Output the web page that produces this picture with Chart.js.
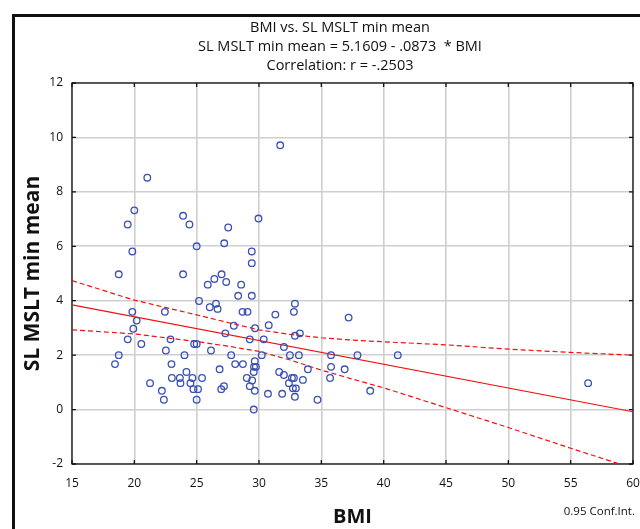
<!DOCTYPE html>
<html>
<head>
<meta charset="utf-8">
<script src="https://cdn.jsdelivr.net/npm/chart.js@4"></script>
<style>
  html, body { margin: 0; padding: 0; background: #fff; }
  #wrap { position: relative; width: 640px; height: 529px; overflow: hidden; }
  #frame { position: absolute; left: 12px; top: 14px; width: 700px; height: 600px;
           border-left: 3px solid #111; border-top: 3px solid #111; }
  #titre { position: absolute; left: 140px; width: 400px; top: 17px; text-align: center;
           font: 14.5px/19px "Open Sans", sans-serif; color: #111; white-space: pre; }
  #conf { position: absolute; right: 5px; top: 503px; font: 11.5px "Open Sans", sans-serif; color: #111; }
</style>
</head>
<body>
<div id="wrap">
  <div id="frame"></div>
  <canvas id="graph-bmi" width="640" height="529"></canvas>
  <div id="titre"></div>
  <div id="conf">0.95 Conf.Int.</div>
</div>
<script>
'use strict';

// Points (BMI, SL MSLT min mean)
const bmi = [
    21.04, 20.0, 19.47, 19.84, 18.75, 23.91, 24.42, 25.0, 23.91, 27.53,
    27.21, 29.96, 29.42, 29.42, 25.89, 26.42, 27.0, 27.37, 28.57, 31.70,
    18.45, 18.75, 19.47, 19.84, 20.19, 19.92, 20.56, 21.26, 22.21, 22.37,
    22.45, 22.53, 22.9, 22.98, 23.01, 23.65, 23.7, 24.02, 24.18, 24.5,
    24.66, 24.74, 24.8, 25.0, 25.0, 25.11, 25.19, 25.43, 26.05, 26.15,
    26.55, 26.68, 26.84, 26.97, 27.19, 27.3, 27.77, 27.98, 28.09, 28.33,
    28.68, 28.71, 29.02, 29.08, 29.26, 29.26, 29.42, 29.45, 29.58, 29.6,
    29.66, 29.68, 29.58, 29.66, 29.75,
    30.38, 30.22, 30.78, 31.31, 32.0, 32.48, 33.2, 32.88, 32.8, 33.28,
    32.88, 30.72, 31.62, 31.86, 32.0, 32.4, 32.64, 32.8, 32.72, 32.96,
    32.88, 33.52, 33.92, 34.69, 35.78, 35.78, 35.7, 36.87, 37.19, 37.9,
    38.92, 41.13, 56.4
];
const mslt = [
    8.52, 7.32, 6.80, 5.81, 4.97, 7.12, 6.80, 6.0, 4.97, 6.69,
    6.11, 7.02, 5.81, 5.38, 4.59, 4.80, 4.97, 4.69, 4.59, 9.71,
    1.67, 2.0, 2.58, 3.59, 3.27, 2.97, 2.41, 0.97, 0.69, 0.36,
    3.59, 2.17, 2.58, 1.67, 1.16, 1.16, 0.97, 2.0, 1.38, 0.97,
    1.16, 0.75, 2.41, 2.41, 0.36, 0.75, 3.99, 1.16, 3.76, 2.17,
    3.89, 3.70, 1.48, 0.75, 0.86, 2.8, 2.0, 3.08, 1.67, 4.18,
    3.59, 1.67, 1.16, 3.59, 0.86, 2.58, 4.18, 1.07, 1.38, 1.57,
    1.78, 2.99, 0.0, 0.69, 1.57,
    2.58, 2.0, 3.10, 3.49, 2.30, 2.0, 2.0, 3.89, 3.59, 2.80,
    2.71, 0.58, 1.38, 0.58, 1.27, 0.97, 1.16, 1.16, 0.78, 0.78,
    0.47, 1.09, 1.48, 0.36, 2.0, 1.57, 1.16, 1.48, 3.38, 2.0,
    0.69, 2.0, 0.97
];

// Droite de régression et intervalle de confiance à 95 %
const regX = [15, 60];
const regY = [3.85, -0.08];
const ciX = [15, 20, 25, 27.5, 30, 32.5, 35, 37.5, 40, 45, 50, 55, 60];
const ciUpper = [4.74, 4.02, 3.48, 3.20, 2.93, 2.76, 2.64, 2.55, 2.49, 2.38, 2.22, 2.10, 2.00];
const ciLower = [2.93, 2.78, 2.50, 2.33, 2.14, 1.82, 1.45, 1.12, 0.80, 0.07, -0.66, -1.42, -2.16];

// Axes
const xTicks = [15, 20, 25, 30, 35, 40, 45, 50, 55, 60];
const yTicks = [-2, 0, 2, 4, 6, 8, 10, 12];

const titleLines = [
    'BMI vs. SL MSLT min mean',
    'SL MSLT min mean = 5.1609 - .0873  * BMI',
    'Correlation: r = -.2503'
];
document.getElementById('titre').textContent = titleLines.join('\n');

const FONT = '"Open Sans", sans-serif';

function toXY(xs, ys) {
    return xs.map((x, i) => ({ x: x, y: ys[i] }));
}

// Cadre noir du graphique avec petites graduations vers l'intérieur
const framePlugin = {
    id: 'frame',
    beforeDatasetsDraw(chart) {
        const { ctx, chartArea: a, scales } = chart;
        ctx.save();
        ctx.strokeStyle = '#111';
        ctx.lineWidth = 1.3;
        ctx.strokeRect(a.left, a.top, a.right - a.left, a.bottom - a.top);
        ctx.beginPath();
        xTicks.forEach(v => {
            const px = scales.x.getPixelForValue(v);
            ctx.moveTo(px, a.bottom); ctx.lineTo(px, a.bottom - 4);
            ctx.moveTo(px, a.top); ctx.lineTo(px, a.top + 4);
        });
        yTicks.forEach(v => {
            const py = scales.y.getPixelForValue(v);
            ctx.moveTo(a.left, py); ctx.lineTo(a.left + 4, py);
            ctx.moveTo(a.right, py); ctx.lineTo(a.right - 4, py);
        });
        ctx.stroke();
        ctx.restore();
    }
};

const ctx = document.getElementById('graph-bmi').getContext('2d');
new Chart(ctx, {
    type: 'scatter',
    data: {
        datasets: [
            {
                label: 'points',
                data: toXY(bmi, mslt),
                pointStyle: 'circle',
                pointRadius: 3.3,
                pointBorderWidth: 1.3,
                borderColor: '#3a50b4',
                backgroundColor: 'rgba(0,0,0,0)'
            },
            {
                label: 'régression',
                data: toXY(regX, regY),
                showLine: true,
                pointRadius: 0,
                borderColor: '#f01010',
                borderWidth: 1.2
            },
            {
                label: 'IC haut',
                data: toXY(ciX, ciUpper),
                showLine: true,
                pointRadius: 0,
                borderColor: '#f01010',
                borderWidth: 1.2,
                borderDash: [5, 3]
            },
            {
                label: 'IC bas',
                data: toXY(ciX, ciLower),
                showLine: true,
                pointRadius: 0,
                borderColor: '#f01010',
                borderWidth: 1.2,
                borderDash: [5, 3]
            }
        ]
    },
    options: {
        responsive: false,
        animation: false,
        events: [],
        layout: { padding: { left: 14, top: 83, right: 0, bottom: 0 } },
        plugins: {
            legend: { display: false },
            tooltip: { enabled: false },
            title: { display: false }
        },
        scales: {
            x: {
                type: 'linear',
                min: xTicks[0],
                max: xTicks[xTicks.length - 1],
                afterBuildTicks: s => { s.ticks = xTicks.map(v => ({ value: v })); },
                // hauteur fixe et marge droite = demi-largeur du dernier libellé
                afterFit: s => { s.height = 65; s.paddingRight = 7; s.paddingLeft = 0; },
                border: { display: false },
                grid: { color: '#cfcfcf', lineWidth: 1.6, drawTicks: false },
                ticks: { color: '#111', padding: 12, font: { family: FONT, size: 12 } },
                title: {
                    display: true, text: 'BMI', color: '#111',
                    font: { family: FONT, size: 20, weight: 'bold' },
                    padding: { top: 0, bottom: 0 }
                }
            },
            y: {
                type: 'linear',
                min: yTicks[0],
                max: yTicks[yTicks.length - 1],
                afterBuildTicks: s => { s.ticks = yTicks.map(v => ({ value: v })); },
                afterFit: s => { s.width = 58; },
                border: { display: false },
                grid: { color: '#cfcfcf', lineWidth: 1.6, drawTicks: false },
                ticks: { color: '#111', padding: 9, font: { family: FONT, size: 12 } },
                title: {
                    display: true, text: 'SL MSLT min mean', color: '#111',
                    font: { family: FONT, size: 21, weight: 'bold' },
                    padding: { top: 6, bottom: 0 }
                }
            }
        }
    },
    plugins: [framePlugin]
});
</script>
</body>
</html>
